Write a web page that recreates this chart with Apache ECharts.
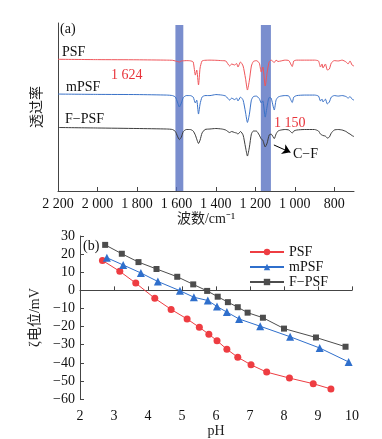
<!DOCTYPE html>
<html><head><meta charset="utf-8">
<script src="https://cdn.jsdelivr.net/npm/echarts@6/dist/echarts.min.js"></script>
<style>html,body{margin:0;padding:0;background:#fff}#c{width:382px;height:439px}</style>
</head><body><div id="c"></div>
<script>
// ---- Panel (a): FTIR spectra ----
const wavenumbers = [2200,2000,1800,1650,1620,1605,1595,1585,1575,1565,1550,1530,1515,1504,1497,1488,1480,1470,1455,1430,1400,1370,1350,1330,1320,1305,1295,1288,1275,1262,1250,1240,1230,1220,1210,1195,1180,1170,1162,1150,1140,1130,1120,1104,1095,1085,1070,1050,1030,1013,1005,990,950,900,880,870,862,857,845,835,825,815,800,780,760,740,730,720,710,700];
const psfSpec = [78.4,78.2,78.1,77.9,77.8,77.4,77.1,76.8,77.4,77.5,77.6,77.5,76.8,69.0,72.0,63.1,73.2,77.4,77.8,77.9,77.8,77.6,77.4,74.4,75.6,75.0,75.9,73.8,76.8,74.4,67.2,60.1,66.0,74.4,77.1,77.6,76.2,70.8,73.8,62.5,70.8,76.8,77.9,76.5,77.9,77.1,77.4,77.9,77.6,74.1,77.4,77.9,77.9,77.9,77.4,73.8,75.6,73.2,75.6,72.0,72.6,76.2,77.6,77.4,77.9,76.8,75.6,77.4,75.0,74.4];
const mpsfSpec = [57.7,57.5,57.4,57.1,56.8,55.9,53.0,50.0,52.4,55.6,56.8,56.8,55.9,52.4,54.1,45.8,51.8,55.9,56.8,56.8,57.4,57.1,56.5,54.1,55.3,54.4,55.3,53.6,55.9,54.1,47.0,40.8,45.8,54.1,56.2,56.5,55.0,52.4,53.6,44.0,50.6,55.6,55.3,48.2,54.1,55.9,56.5,56.8,56.5,52.7,55.9,56.8,57.1,57.1,56.5,53.6,54.7,53.0,54.7,51.8,53.0,55.9,56.8,56.5,56.8,56.2,55.3,56.2,54.7,54.1];
const fpsfSpec = [37.8,37.5,37.2,36.9,36.6,35.4,32.7,30.6,32.1,35.4,36.6,36.6,35.7,33.3,30.9,28.3,30.3,34.5,36.6,36.9,37.2,36.9,36.3,34.8,35.4,34.8,34.5,33.9,35.4,33.3,26.2,20.8,26.2,33.9,35.7,35.7,33.3,30.9,30.3,26.2,28.6,33.3,33.9,31.2,33.9,35.7,36.3,36.6,36.3,34.5,35.7,36.3,36.6,36.6,35.7,33.9,33.3,33.0,32.7,31.5,32.1,34.5,36.3,36.6,36.3,35.4,34.5,33.9,33.0,32.4];
const wnTicks = [2200,2000,1800,1600,1400,1200,1000,800];
const bandRanges = [[1605,1565],[1172,1121]];

// ---- Panel (b): zeta potential ----
const psfPH = [2.66,3.17,3.64,4.20,4.68,5.15,5.51,5.79,6.03,6.32,6.64,7.03,7.49,8.16,8.86,9.38];
const psfZeta = [16.5,10.5,4.0,-4.4,-10.5,-15.8,-20.4,-24.2,-27.8,-32.5,-36.9,-41.1,-45.1,-48.4,-51.5,-54.4];
const mpsfPH = [2.79,3.27,3.79,4.29,4.94,5.35,5.76,6.03,6.32,6.68,7.30,8.18,9.05,9.90];
const mpsfZeta = [18.0,14.0,9.6,4.9,-0.2,-3.8,-5.6,-8.9,-12.0,-15.8,-19.8,-25.6,-31.8,-39.5];
const fpsfPH = [2.74,3.23,3.72,4.25,4.86,5.33,5.74,6.05,6.35,6.64,6.93,7.38,8.00,8.94,9.81];
const fpsfZeta = [25.1,20.2,15.6,11.8,7.5,3.3,-0.3,-3.5,-6.5,-9.3,-12.3,-15.1,-21.1,-26.0,-31.1];

const zip = (a, b) => a.map((v, i) => [v, b[i]]);
const FONT = "'Liberation Serif','Noto Sans CJK SC',serif";
const axisCol = '#444';
const minus = v => String(v).replace('-', '\u2212');
const spaced = v => { const s = String(v); return s.length > 3 ? s.slice(0, s.length - 3) + ' ' + s.slice(-3) : s; };

const cRed = '#ee3d42', cBlue = '#2f6fcc', cGray = '#4d4d4d';
const cRedA = '#f0555a', cBlueA = '#3a72c8', cGrayA = '#3d3d3d';

const chart = echarts.init(document.getElementById('c'), null, {renderer: 'canvas'});
chart.setOption({
  animation: false,
  backgroundColor: '#fff',
  textStyle: {fontFamily: FONT},
  grid: [
    {left: 58, top: 23, width: 296, height: 168},
    {left: 80, top: 236, width: 272, height: 165}
  ],
  xAxis: [
    {gridIndex: 0, type: 'value', inverse: true, min: 700, max: 2200,
     axisLine: {lineStyle: {color: axisCol, width: 1}},
     axisTick: {inside: true, length: 4, customValues: wnTicks, lineStyle: {color: axisCol}},
     axisLabel: {customValues: wnTicks, formatter: spaced, color: '#111', fontSize: 14, fontFamily: FONT, margin: 6},
     splitLine: {show: false},
     name: '波数/cm⁻¹', nameLocation: 'middle', nameGap: 21,
     nameTextStyle: {fontSize: 14, color: '#222', fontFamily: FONT}},
    {gridIndex: 1, type: 'value', min: 2, max: 10, interval: 1,
     axisLine: {lineStyle: {color: axisCol, width: 1}},
     axisTick: {inside: true, length: 4, lineStyle: {color: axisCol}},
     axisLabel: {color: '#111', fontSize: 14, fontFamily: FONT, margin: 10},
     splitLine: {show: false},
     name: 'pH', nameLocation: 'middle', nameGap: 24,
     nameTextStyle: {fontSize: 14, color: '#222', fontFamily: FONT}}
  ],
  yAxis: [
    {gridIndex: 0, type: 'value', min: 0, max: 100,
     axisLine: {show: true, lineStyle: {color: axisCol, width: 1}},
     axisTick: {show: false}, axisLabel: {show: false}, splitLine: {show: false},
     name: '透过率', nameLocation: 'middle', nameGap: 14, nameRotate: 90,
     nameTextStyle: {fontSize: 14, color: '#222', fontFamily: FONT}},
    {gridIndex: 1, type: 'value', min: -60, max: 30, interval: 10,
     axisLine: {show: true, lineStyle: {color: axisCol, width: 1}},
     axisTick: {show: true, inside: true, length: 4, lineStyle: {color: axisCol}},
     axisLabel: {color: '#111', fontSize: 14, fontFamily: FONT, margin: 5, formatter: minus},
     splitLine: {show: false},
     name: 'ζ电位/mV', nameLocation: 'middle', nameGap: 32, nameRotate: 90,
     nameTextStyle: {fontSize: 14, color: '#222', fontFamily: FONT}}
  ],
  legend: {
    data: ['PSF', 'mPSF', 'F−PSF'], orient: 'vertical', left: 244, top: 240,
    itemWidth: 34, itemHeight: 8, itemGap: 1,
    textStyle: {fontSize: 14, fontFamily: FONT, color: '#111', lineHeight: 13}
  },
  series: [
    {name: 'PSF谱', type: 'line', xAxisIndex: 0, yAxisIndex: 0, data: zip(wavenumbers, psfSpec),
     showSymbol: false, smooth: 0.2, lineStyle: {color: cRedA, width: 1}, z: 2},
    {name: 'mPSF谱', type: 'line', xAxisIndex: 0, yAxisIndex: 0, data: zip(wavenumbers, mpsfSpec),
     showSymbol: false, smooth: 0.2, lineStyle: {color: cBlueA, width: 1}, z: 2},
    {name: 'F−PSF谱', type: 'line', xAxisIndex: 0, yAxisIndex: 0, data: zip(wavenumbers, fpsfSpec),
     showSymbol: false, smooth: 0.2, lineStyle: {color: cGrayA, width: 1}, z: 2,
     markLine: {silent: true, symbol: ['none', 'arrow'], symbolSize: 8,
       lineStyle: {color: '#000', width: 1, type: 'solid'}, label: {show: false},
       data: [[{coord: [1106, 27.4]}, {coord: [1022, 23.0]}]]}},
    {name: 'bands', type: 'line', xAxisIndex: 0, yAxisIndex: 0, data: [], z: 5,
     markArea: {silent: true, itemStyle: {color: 'rgba(84,110,192,0.78)'},
       data: bandRanges.map(r => [{coord: [r[0], 0]}, {coord: [r[1], 98.8]}])}},
    {name: 'PSF', type: 'line', xAxisIndex: 1, yAxisIndex: 1, data: zip(psfPH, psfZeta),
     symbol: 'circle', symbolSize: 7, lineStyle: {color: cRed, width: 1}, itemStyle: {color: cRed}},
    {name: 'mPSF', type: 'line', xAxisIndex: 1, yAxisIndex: 1, data: zip(mpsfPH, mpsfZeta),
     symbol: 'triangle', symbolSize: 8, lineStyle: {color: cBlue, width: 1}, itemStyle: {color: cBlue}},
    {name: 'F−PSF', type: 'line', xAxisIndex: 1, yAxisIndex: 1, data: zip(fpsfPH, fpsfZeta),
     symbol: 'rect', symbolSize: 6, lineStyle: {color: cGray, width: 1}, itemStyle: {color: cGray}}
  ],
  graphic: [
    {type: 'text', left: 60, top: 22, style: {text: '(a)', font: "14px " + FONT, fill: '#111'}},
    {type: 'text', left: 62, top: 45, style: {text: 'PSF', font: "14px " + FONT, fill: '#111'}},
    {type: 'text', left: 111, top: 68, style: {text: '1 624', font: "14px " + FONT, fill: '#e8333a'}},
    {type: 'text', left: 66, top: 80, style: {text: 'mPSF', font: "14px " + FONT, fill: '#111'}},
    {type: 'text', left: 65, top: 112, style: {text: 'F−PSF', font: "14px " + FONT, fill: '#111'}},
    {type: 'text', left: 274, top: 116, style: {text: '1 150', font: "14px " + FONT, fill: '#e8333a'}},
    {type: 'text', left: 293, top: 147, style: {text: 'C−F', font: "14px " + FONT, fill: '#111'}},
    {type: 'text', left: 83, top: 239, style: {text: '(b)', font: "14px " + FONT, fill: '#111'}}
  ]
});
</script></body></html>
